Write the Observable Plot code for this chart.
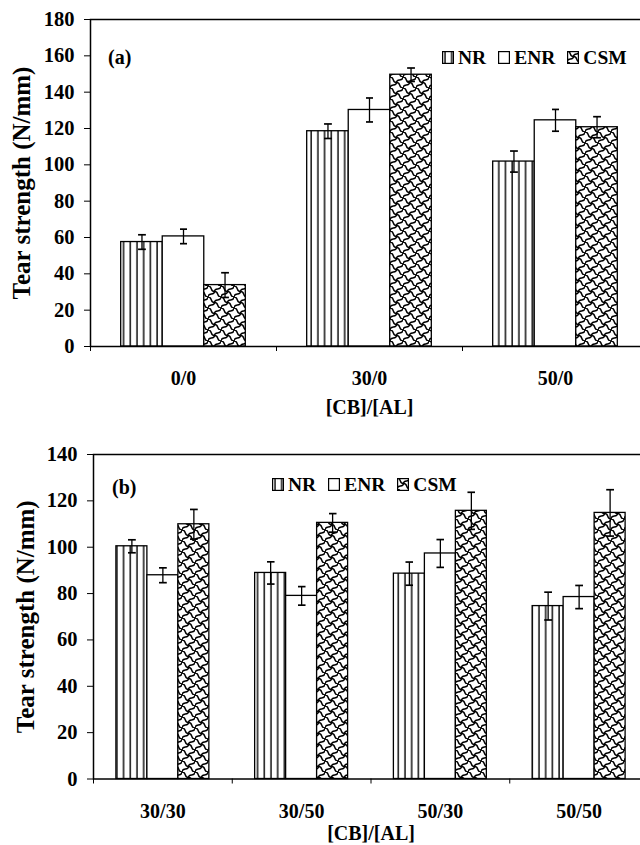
<!DOCTYPE html>
<html>
<head>
<meta charset="utf-8">
<script src="https://cdn.jsdelivr.net/npm/d3@7"></script>
<script src="https://cdn.jsdelivr.net/npm/@observablehq/plot@0.6"></script>
<style>
  html, body { margin: 0; padding: 0; background: #fff; }
  body { width: 640px; height: 845px; overflow: hidden; font-family: "Liberation Serif", "Times New Roman", serif; }
  .panel { position: relative; width: 640px; }
  .panel svg.plot { display: block; overflow: hidden; }
  .tag { position: absolute; font-weight: bold; font-size: 20px; line-height: 1; }
  .legend { position: absolute; display: flex; align-items: center; font-weight: bold; font-size: 19.5px; line-height: 1; white-space: nowrap; }
  .legend .item { display: flex; align-items: center; margin-right: 12px; }
  .legend svg { margin-right: 4px; }
</style>
</head>
<body>
<svg width="0" height="0" style="position:absolute">
  <defs>
    <pattern id="pat-NR" width="6.7" height="10" patternUnits="userSpaceOnUse">
      <rect width="6.7" height="10" fill="white"/>
      <line x1="3" y1="0" x2="3" y2="10" stroke="black" stroke-width="1.4"/>
    </pattern>
    <pattern id="pat-ENR" width="10" height="10" patternUnits="userSpaceOnUse">
      <rect width="10" height="10" fill="white"/>
    </pattern>
    <pattern id="pat-CSM" width="13" height="11" patternUnits="userSpaceOnUse">
      <rect x="0" y="0" width="13" height="11" fill="white"/>
      <path d="M0,0 C5,0 1.5,5.5 6.5,5.5 S8,11 13,11" fill="none" stroke="black" stroke-width="1.4"/>
      <path d="M0,11 C0,6 6.5,10 6.5,5.5 S13,5 13,0" fill="none" stroke="black" stroke-width="1.4"/>
    </pattern>
  </defs>
</svg>

<div id="panelA" class="panel"></div>
<div id="panelB" class="panel"></div>

<script>
// ---- data ----
const seriesNames = ["NR", "ENR", "CSM"];

// Panel (a)
const catsA = ["0/0", "30/0", "50/0"];
const nrA = [57.5, 118.5, 101.8];
const nrErrA = [4, 4, 5.8];
const enrA = [60.6, 130.2, 124.5];
const enrErrA = [4, 6.6, 6];
const csmA = [33.8, 149.6, 120.7];
const csmErrA = [6.8, 3.7, 5.8];
const yTicksA = [0, 20, 40, 60, 80, 100, 120, 140, 160, 180];

// Panel (b)
const catsB = ["30/30", "30/50", "50/30", "50/50"];
const nrB = [100.4, 88.9, 88.6, 74.6];
const nrErrB = [2.8, 4.8, 5, 6];
const enrB = [87.9, 79, 97.3, 78.5];
const enrErrB = [3.2, 4, 6, 5];
const csmB = [109.9, 110.5, 115.7, 114.8];
const csmErrB = [6.4, 4, 8, 10];
const yTicksB = [0, 20, 40, 60, 80, 100, 120, 140];

const yTitle = "Tear strength (N/mm)";
const xTitle = "[CB]/[AL]";

function buildRows(cats, vals, errs) {
  const rows = [];
  seriesNames.forEach((s, j) => {
    cats.forEach((c, i) => rows.push({cat: c, i, s, j, value: vals[j][i], err: errs[j][i]}));
  });
  return rows;
}

function chart(cats, vals, errs, yTicks, cfg) {
  const rows = buildRows(cats, vals, errs);
  const group = 0.67, bw = group / 3, off = (1 - group) / 2;
  const xa = r => r.i + off + r.j * bw;
  const xb = r => r.i + off + (r.j + 1) * bw;
  const xm = r => r.i + off + (r.j + 0.5) * bw;
  const marks = [];
  seriesNames.forEach((s, j) => {
    marks.push(Plot.rect(rows.filter(r => r.j === j), {
      x1: xa, x2: xb, y1: 0, y2: "value",
      fill: `url(#pat-${s})`, stroke: "black", strokeWidth: 1.3
    }));
  });
  marks.push(Plot.link(rows, {
    x1: xm, x2: xm, y1: r => r.value - r.err, y2: r => r.value + r.err,
    stroke: "black", strokeWidth: 1.3, markerStart: "tick", markerEnd: "tick"
  }));
  marks.push(Plot.frame({stroke: "black", strokeWidth: 1.5}));
  marks.push(Plot.axisY({ticks: yTicks, tickSize: 6, tickPadding: 10, label: null, fontSize: 20.5}));
  marks.push(Plot.axisX({ticks: d3.range(0, cats.length + 1), tickFormat: () => "", tickSize: 5, label: null}));
  marks.push(Plot.axisX({ticks: cats.map((c, i) => i + 0.5), tickFormat: v => cats[Math.floor(v)], tickSize: 0, tickPadding: cfg.tickPad, label: null, fontSize: 20}));
  marks.push(Plot.text([yTitle], {frameAnchor: "left", textAnchor: "middle", lineAnchor: "middle", rotate: -90, dx: cfg.yTitleDx, fontSize: 25, fontWeight: "bold", text: d => d}));
  marks.push(Plot.text([xTitle], {frameAnchor: "bottom", textAnchor: "middle", lineAnchor: "middle", dy: cfg.xTitleDy, fontSize: 20, fontWeight: "bold", text: d => d}));
  return Plot.plot({
    width: 640,
    height: cfg.height,
    marginTop: cfg.mt,
    marginBottom: cfg.mb,
    marginLeft: cfg.ml,
    marginRight: -8,
    x: {domain: [0, cats.length]},
    y: {domain: [0, yTicks[yTicks.length - 1]]},
    style: {fontFamily: "'Liberation Serif', 'Times New Roman', serif", fontWeight: "bold", color: "black", background: "white", overflow: "hidden"},
    marks
  });
}

function legend(left, top) {
  const div = document.createElement("div");
  div.className = "legend";
  div.style.left = left + "px";
  div.style.top = top + "px";
  seriesNames.forEach(s => {
    const item = document.createElement("span");
    item.className = "item";
    item.innerHTML = `<svg width="12" height="13"><rect x="0.6" y="0.6" width="10.8" height="11.8" fill="url(#pat-${s})" stroke="black" stroke-width="1.2"/></svg><span>${s}</span>`;
    div.appendChild(item);
  });
  return div;
}

function tag(text, left, top) {
  const d = document.createElement("div");
  d.className = "tag";
  d.textContent = text;
  d.style.left = left + "px";
  d.style.top = top + "px";
  return d;
}

const pA = document.getElementById("panelA");
pA.appendChild(chart(catsA, [nrA, enrA, csmA], [nrErrA, enrErrA, csmErrA], yTicksA,
  {height: 420, mt: 19, mb: 74, ml: 90, tickPad: 24, yTitleDx: -69, xTitleDy: 61}));
pA.appendChild(tag("(a)", 108, 47));
pA.appendChild(legend(442, 48));

const pB = document.getElementById("panelB");
pB.appendChild(chart(catsB, [nrB, enrB, csmB], [nrErrB, enrErrB, csmErrB], yTicksB,
  {height: 425, mt: 34, mb: 66.5, ml: 93, tickPad: 25, yTitleDx: -68, xTitleDy: 55}));
pB.appendChild(tag("(b)", 112, 57));
pB.appendChild(legend(272, 55));
</script>
</body>
</html>
